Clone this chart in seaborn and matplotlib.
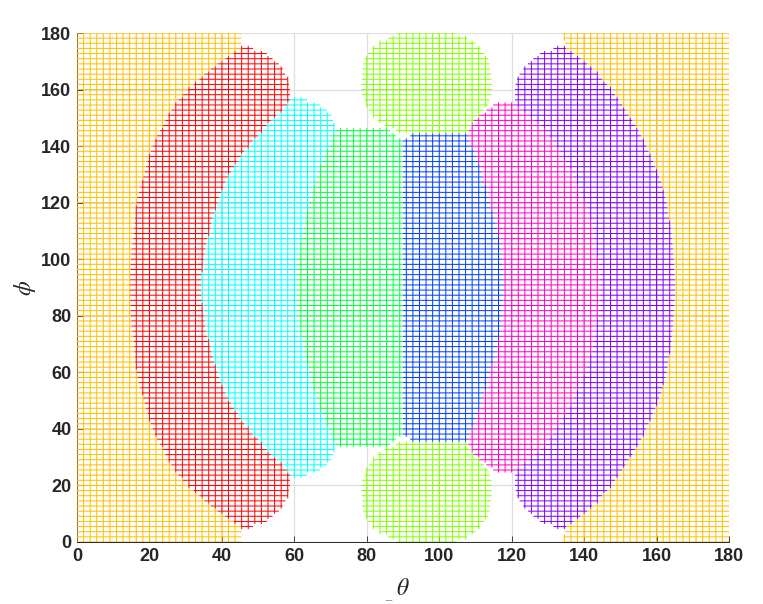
import numpy as np
import pandas as pd
import matplotlib
matplotlib.use("Agg")
import matplotlib.pyplot as plt
import seaborn as sns

# colours of the zones
zone_colors = {
    "orange": "#FFBF00",
    "red": "#FF0000",
    "cyan": "#00FFFF",
    "green": "#00FF40",
    "blue": "#0040FF",
    "magenta": "#FF00BF",
    "purple": "#8000FF",
    "lime": "#80FF00",
}

tick_values = [0, 20, 40, 60, 80, 100, 120, 140, 160, 180]

# zone edges in degrees of theta.
# first value = row just above phi 90, one row per mesh step going up to phi 180
orange_end = [14.6, 14.7, 14.7, 14.8, 14.8, 14.9, 15.0, 15.1, 15.3, 15.5,
              15.7, 15.8, 15.9, 16.0, 16.1, 16.3, 16.4, 16.7, 17.1, 17.5,
              17.9, 18.3, 18.7, 19.1, 19.5, 20.0, 20.4, 20.9, 21.5, 22.1,
              22.9, 23.7, 24.4, 25.2, 26.1, 27.0, 28.0, 29.2, 30.7, 32.2,
              33.8, 35.3, 37.0, 38.8, 41.0, 43.2, 45.3, 45.4, 45.4, 45.4]
red_end = [34.3, 34.4, 34.5, 34.6, 34.8, 35.0, 35.2, 35.4, 35.7, 36.0,
           36.4, 36.7, 37.1, 37.5, 37.9, 38.3, 38.8, 39.3, 39.8, 40.4,
           41.0, 41.7, 42.5, 43.5, 44.4, 45.4, 46.2, 47.3, 48.5, 50.0,
           51.0, 52.4, 53.6, 55.0, 56.6, 58.1, 58.8, 58.8, 58.8, 58.5,
           58.2, 57.5, 56.8, 55.7, 54.0, 52.4, 48.6]
cyan_end = [60.8, 60.8, 60.9, 60.9, 61.0, 61.1, 61.3, 61.5, 61.7, 62.0,
            62.3, 62.6, 62.8, 63.1, 63.4, 63.7, 64.0, 64.4, 64.8, 65.2,
            65.6, 66.1, 66.5, 67.1, 67.7, 68.3, 69.0, 69.8, 70.2, 70.7,
            71.4, 71.0, 70.7, 70.2, 69.0, 67.0, 63.5]
green_end = [90.0, 90.0, 90.0, 90.0, 90.0, 90.0, 90.0, 90.0, 90.0, 90.0,
             90.0, 90.0, 90.0, 90.0, 90.0, 90.0, 90.0, 90.0, 90.0, 90.0,
             90.0, 90.0, 90.0, 90.0, 90.0, 90.0, 90.0, 90.0, 90.0, 88.0,
             86.4]
blue_start = [90.0, 90.0, 90.0, 90.0, 90.0, 90.0, 90.0, 90.0, 90.0, 90.0,
              90.0, 90.0, 90.0, 90.0, 90.0, 90.0, 90.0, 90.0, 90.0, 90.0,
              90.0, 90.0, 90.0, 90.0, 90.0, 90.0, 90.0, 90.0, 90.0, 92.0]
magenta_start = [117.9, 117.8, 117.7, 117.6, 117.4, 117.3, 117.2, 117.0, 116.8, 116.6,
                 116.3, 116.0, 115.6, 115.3, 114.9, 114.5, 114.1, 113.7, 113.3, 112.9,
                 112.5, 112.1, 111.7, 111.2, 110.7, 110.2, 109.6, 109.0, 108.4, 107.9,
                 108.0, 109.0, 109.4, 110.8, 113.0, 114.9]
purple_start = [144.4, 144.3, 144.2, 144.1, 144.0, 143.8, 143.6, 143.4, 143.1, 142.9,
                142.7, 142.4, 142.2, 141.8, 141.2, 140.7, 140.2, 139.6, 139.0, 138.3,
                137.7, 137.0, 136.4, 135.6, 134.9, 134.0, 133.2, 132.3, 131.3, 130.3,
                129.2, 128.0, 126.3, 124.6, 123.0, 121.8, 120.9, 120.9, 120.9, 121.1,
                121.5, 122.2, 123.2, 124.5, 126.0, 127.8, 131.5]
orange_start = [165.1, 165.1, 165.0, 164.9, 164.8, 164.7, 164.6, 164.5, 164.4, 164.2,
                164.1, 163.9, 163.7, 163.5, 163.2, 163.0, 162.7, 162.4, 162.1, 161.7,
                161.3, 160.7, 160.1, 159.6, 159.0, 158.4, 157.8, 157.1, 156.4, 155.7,
                155.0, 154.2, 153.3, 152.3, 151.4, 150.5, 149.5, 148.5, 147.4, 146.3,
                145.0, 143.8, 142.2, 140.9, 139.0, 137.0, 135.0, 134.6, 134.3, 134.0]
# the lime blob only exists in the top rows (row 30 up to row 49)
lime_start = [88.0, 85.0, 83.0, 81.8, 80.7, 80.0, 79.4, 78.7, 78.5, 78.5,
              78.6, 78.7, 78.8, 79.0, 79.5, 80.3, 81.6, 83.5, 85.9, 88.3]
lime_end = [108.0, 109.0, 109.4, 111.0, 112.4, 113.5, 113.9, 114.4, 114.5, 114.5,
            114.5, 114.3, 114.0, 113.9, 113.5, 112.4, 111.3, 110.0, 107.7, 104.8]

N = 100
STEP = 180 / (N - 1)
theta = np.arange(N) * STEP


def paint(grid, rows, name, lo, hi, first_row=0):
    # fill the upper half row by row, the lower half is its mirror image.
    # horizontal lines stop right on the edge, vertical ones follow the grid
    for k, (a, b) in enumerate(zip(lo, hi)):
        row = 50 + first_row + k
        mask = (theta >= a) & (theta < b)
        grid[row, mask] = name
        grid[N - 1 - row, mask] = name
        for r in [row, N - 1 - row]:
            rows.append((a, theta[r], name))
            rows.append((b, theta[r], name))


def runs(values):
    # (start, stop, name) for each stretch of equal labels
    out = []
    start = 0
    for i in range(1, N + 1):
        if i == N or values[i] != values[start]:
            if values[start]:
                out.append((start, i - 1, values[start]))
            start = i
    return out


def build_segments():
    grid = np.full((N, N), "", dtype=object)
    rows = []
    paint(grid, rows, "orange", [0] * N, orange_end)
    paint(grid, rows, "red", orange_end[:47], red_end)
    paint(grid, rows, "cyan", red_end[:37], cyan_end)
    paint(grid, rows, "green", cyan_end[:31], green_end)
    paint(grid, rows, "blue", blue_start, magenta_start[:30])
    paint(grid, rows, "magenta", magenta_start, purple_start[:36])
    paint(grid, rows, "purple", purple_start, orange_start[:47])
    paint(grid, rows, "orange", orange_start, [180] * N)
    paint(grid, rows, "lime", lime_start, lime_end, first_row=30)

    for i in range(N):
        for a, b, name in runs(grid[:, i]):
            rows.append((theta[i], theta[a] - STEP / 2, name))
            rows.append((theta[i], theta[b] + STEP / 2, name))

    df = pd.DataFrame(rows, columns=["theta", "phi", "zone"])
    df["seg"] = np.arange(len(df)) // 2
    return df


def main():
    sns.set_style("white")
    plt.rcParams["font.family"] = ["Liberation Sans", "DejaVu Sans"]
    plt.rcParams["mathtext.fontset"] = "stix"

    fig = plt.figure(figsize=(7.63, 6.04), dpi=100)
    ax = fig.add_axes([77 / 763, 62 / 604, 652 / 763, 509 / 604])

    sns.lineplot(data=build_segments(), x="theta", y="phi", hue="zone", units="seg",
                 estimator=None, sort=False, palette=zone_colors,
                 linewidth=0.72, legend=False, ax=ax)
    for line in ax.lines:
        line.set_snap(False)
        line.set_solid_capstyle("butt")
        line.set_zorder(3)

    ax.set_xlim(0, 180)
    ax.set_ylim(0, 180)
    ax.set_xticks(tick_values)
    ax.set_yticks(tick_values)
    ax.grid(True, color="#DFDFDF", linewidth=0.9)
    ax.set_axisbelow(True)
    ax.tick_params(direction="in", length=4.5, width=0.6, color="#262626",
                   bottom=True, left=True, pad=4)
    for lab in ax.get_xticklabels() + ax.get_yticklabels():
        lab.set_fontsize(13)
        lab.set_fontweight("bold")
        lab.set_color("#262626")

    for side in ["top", "right"]:
        ax.spines[side].set_visible(False)
    for side in ["bottom", "left"]:
        ax.spines[side].set_color("#262626")
        ax.spines[side].set_linewidth(0.7)

    ax.set_xlabel(r"$\theta$", fontsize=17, color="#262626", labelpad=10)
    ax.set_ylabel(r"$\phi$", fontsize=17, color="#262626", labelpad=2)
    fig.text(388 / 763, 2.5 / 604, "_", color="#5B8DB0", fontsize=8,
             ha="center", va="bottom")

    fig.savefig("out.png", dpi=100)
    plt.close()


if __name__ == "__main__":
    main()
